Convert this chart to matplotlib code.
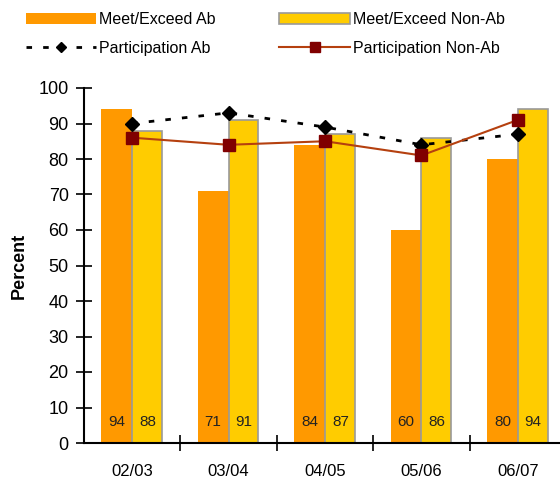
import matplotlib
matplotlib.use("Agg")
import matplotlib.pyplot as plt
import numpy as np
from matplotlib.patches import Patch
from matplotlib.lines import Line2D

plt.rcParams['font.family'] = ['Liberation Sans', 'DejaVu Sans']

categories = ["02/03", "03/04", "04/05", "05/06", "06/07"]
meet_ab = [94, 71, 84, 60, 80]
meet_nonab = [88, 91, 87, 86, 94]
part_ab = [90, 93, 89, 84, 87]
part_nonab = [86, 84, 85, 81, 91]

orange = "#FF9900"
yellow = "#FFCC00"
dark_red = "#800000"
line_red = "#B5400F"

fig = plt.figure(figsize=(5.6, 4.8), dpi=100)
ax = fig.add_axes([84/560, 37/480, 482/560, 355/480])

x = np.arange(len(categories))
w = 0.32
ax.bar(x - w/2, meet_ab, width=w, color=orange, edgecolor='none', zorder=2)
ax.bar(x + w/2 - 0.005, meet_nonab, width=w - 0.01, color=yellow, edgecolor='#999999', linewidth=1.2, zorder=2)

for xi, v in zip(x, meet_ab):
    ax.text(xi - w/2, 6, str(v), ha='center', va='center', fontsize=11, color='#222222', zorder=3)
for xi, v in zip(x, meet_nonab):
    ax.text(xi + w/2, 6, str(v), ha='center', va='center', fontsize=11, color='#222222', zorder=3)

ax.plot(x, part_ab, linestyle=(0, (2, 4)), color='black', linewidth=2,
        marker='D', markersize=7, markerfacecolor='black', markeredgecolor='black', zorder=4)
ax.plot(x, part_nonab, linestyle='-', color=line_red, linewidth=1.5,
        marker='s', markersize=9, markerfacecolor=dark_red, markeredgecolor=dark_red, zorder=5)

ax.set_xlim(-0.5, 4.5)
ax.set_ylim(0, 100)
ax.set_yticks(range(0, 101, 10))
ax.tick_params(axis='y', labelsize=13, direction='inout', length=12, width=1.2, pad=5)
ax.set_xticks(x)
ax.set_xticklabels(categories)
ax.set_xticks(np.arange(0.5, 4.5, 1), minor=True)
ax.tick_params(axis='x', which='major', length=0, labelsize=12, pad=15)
ax.tick_params(axis='x', which='minor', direction='inout', length=12, width=1.2)
for s in ['top', 'right']:
    ax.spines[s].set_visible(False)
ax.spines['left'].set_linewidth(1.5)
ax.spines['bottom'].set_linewidth(1.5)
ax.set_ylabel("Percent", fontsize=13, fontweight='bold', labelpad=8)

handles = [
    Patch(facecolor=orange, edgecolor='none'),
    Line2D([], [], linestyle=(0, (2, 4)), color='black', linewidth=2, marker='D', markersize=5),
    Patch(facecolor=yellow, edgecolor='#999999', linewidth=1.2),
    Line2D([], [], linestyle='-', color=line_red, linewidth=1.5, marker='s', markersize=7,
           markerfacecolor=dark_red, markeredgecolor=dark_red),
]
labels = ["Meet/Exceed Ab", "Participation Ab", "Meet/Exceed Non-Ab", "Participation Non-Ab"]
fig.legend(handles, labels, ncol=2, loc='upper left', bbox_to_anchor=(0.02, 1.005),
           frameon=False, fontsize=11.5, handlelength=4.4, handleheight=0.7,
           handletextpad=0.2, columnspacing=4.0, labelspacing=0.85)

fig.savefig("out.png", dpi=100)
